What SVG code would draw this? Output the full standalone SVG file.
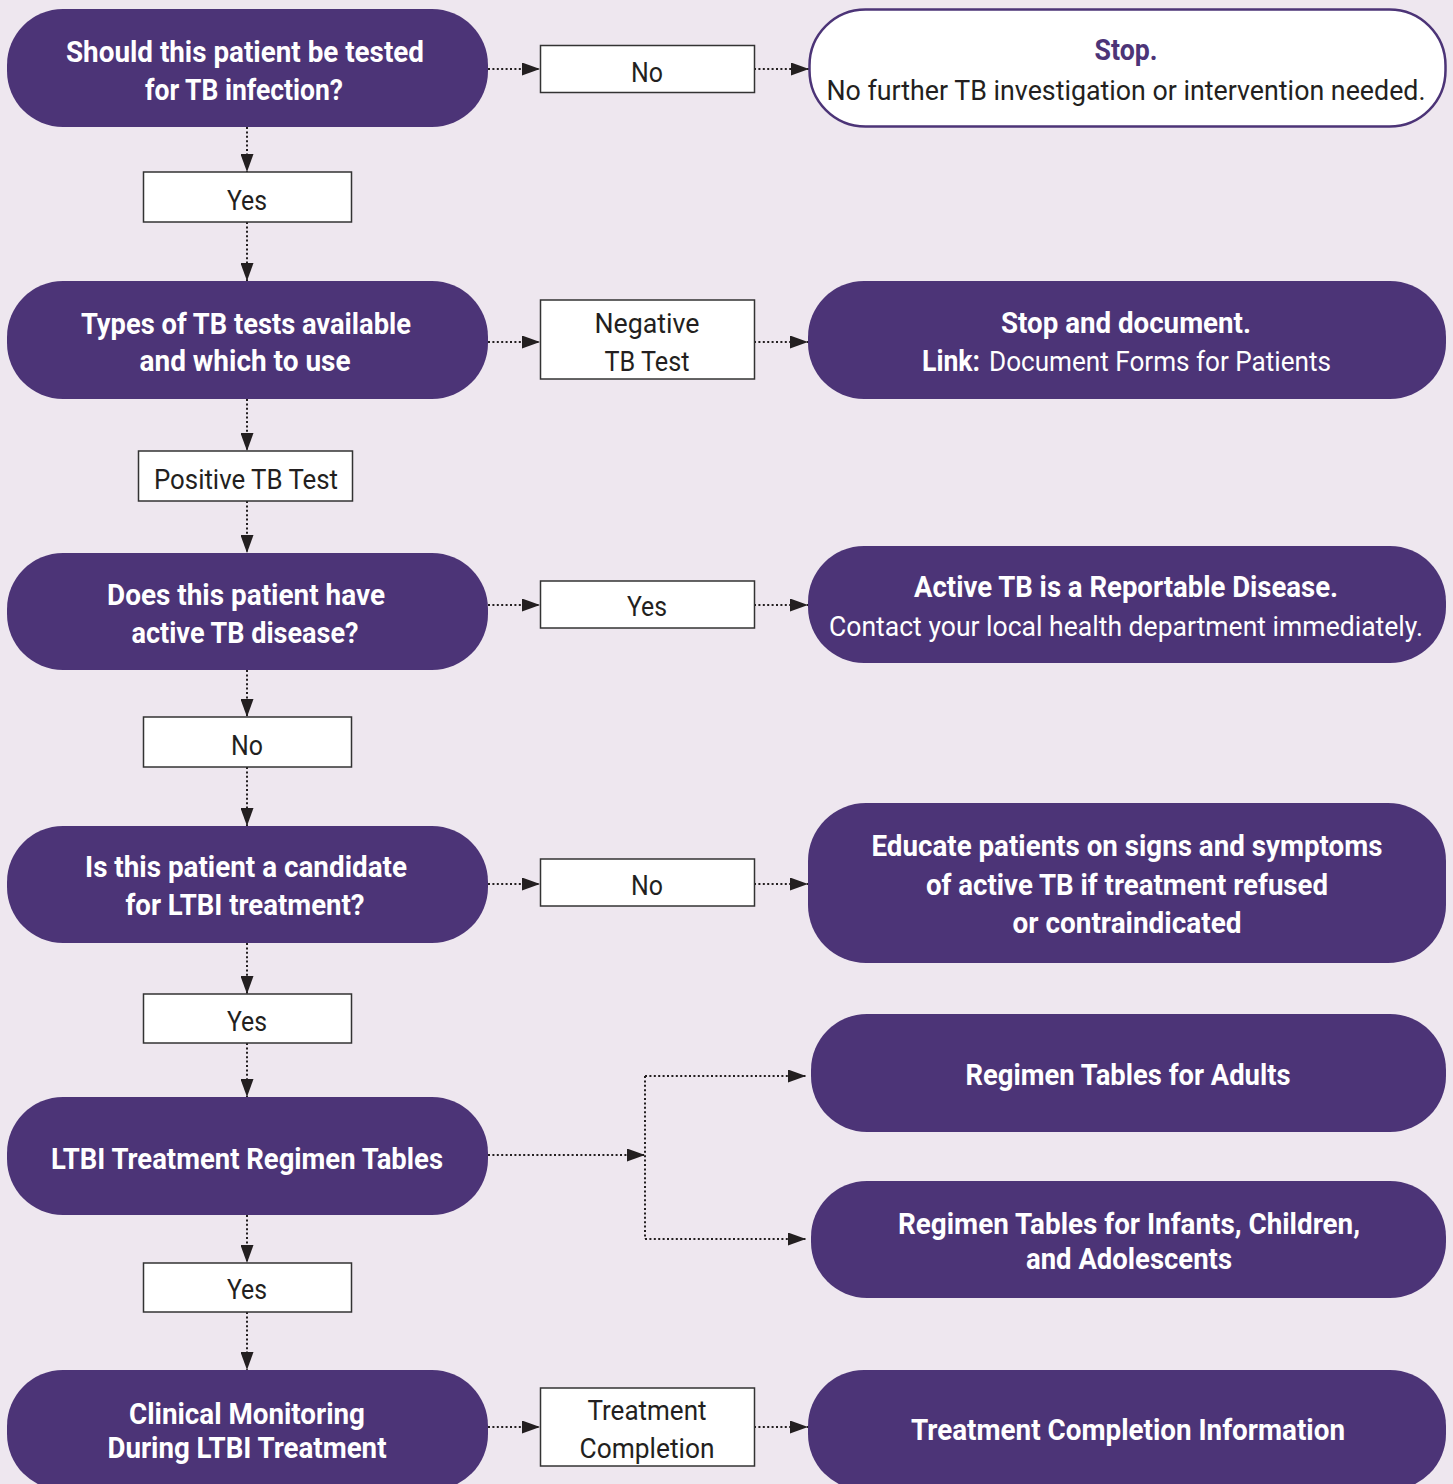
<svg xmlns="http://www.w3.org/2000/svg" width="1453" height="1484" viewBox="0 0 1453 1484">
<style>
.bg{fill:#EEE7EF}
.node{fill:#4C3477}
.stopnode{fill:#FFFFFF;stroke:#4C3477;stroke-width:2.5}
.lbl{fill:#FFFFFF;stroke:#333333;stroke-width:1.5}
.tb{font-family:"Roboto","Liberation Sans",sans-serif;font-weight:bold;font-size:29px;fill:#FFFFFF;text-anchor:middle}
.tr{font-family:"Roboto","Liberation Sans",sans-serif;font-size:28px;fill:#FFFFFF;text-anchor:middle}
.tl{font-family:"Roboto","Liberation Sans",sans-serif;font-size:28px;fill:#231F20;text-anchor:middle}
.conn{fill:none;stroke:#231F20;stroke-width:2;stroke-dasharray:2 2.4}
</style>
<defs>
<marker id="arr" markerUnits="userSpaceOnUse" markerWidth="18" markerHeight="13" refX="18" refY="6.5" orient="auto">
<path d="M0,0 L18,6.5 L0,13 z" fill="#231F20"/>
</marker>
</defs>
<rect class="bg" x="0" y="0" width="1453" height="1484"/>

<g id="connectors">
<path class="conn" d="M488,69 H540" marker-end="url(#arr)"/>
<path class="conn" d="M754,69 H809" marker-end="url(#arr)"/>
<path class="conn" d="M247,127 V172" marker-end="url(#arr)"/>
<path class="conn" d="M247,222 V281" marker-end="url(#arr)"/>
<path class="conn" d="M488,342 H540" marker-end="url(#arr)"/>
<path class="conn" d="M754,342 H808" marker-end="url(#arr)"/>
<path class="conn" d="M247,399 V451" marker-end="url(#arr)"/>
<path class="conn" d="M247,501 V553" marker-end="url(#arr)"/>
<path class="conn" d="M488,605 H540" marker-end="url(#arr)"/>
<path class="conn" d="M754,605 H808" marker-end="url(#arr)"/>
<path class="conn" d="M247,670 V717" marker-end="url(#arr)"/>
<path class="conn" d="M247,767 V826" marker-end="url(#arr)"/>
<path class="conn" d="M488,884 H540" marker-end="url(#arr)"/>
<path class="conn" d="M754,884 H808" marker-end="url(#arr)"/>
<path class="conn" d="M247,943 V994" marker-end="url(#arr)"/>
<path class="conn" d="M247,1043 V1097" marker-end="url(#arr)"/>
<path class="conn" d="M488,1155 H645" marker-end="url(#arr)"/>
<path class="conn" d="M645,1076 V1239"/>
<path class="conn" d="M645,1076 H806" marker-end="url(#arr)"/>
<path class="conn" d="M645,1239 H806" marker-end="url(#arr)"/>
<path class="conn" d="M247,1215 V1263" marker-end="url(#arr)"/>
<path class="conn" d="M247,1312 V1370" marker-end="url(#arr)"/>
<path class="conn" d="M488,1427 H540" marker-end="url(#arr)"/>
<path class="conn" d="M754,1427 H808" marker-end="url(#arr)"/>
</g>

<g id="n1">
<rect class="node" x="7" y="9" width="481" height="118" rx="56"/>
<text class="tb" x="245" y="62" textLength="358" lengthAdjust="spacingAndGlyphs">Should this patient be tested</text>
<text class="tb" x="244" y="100" textLength="198" lengthAdjust="spacingAndGlyphs">for TB infection?</text>
</g>
<g id="n2">
<rect class="node" x="7" y="281" width="481" height="118" rx="56"/>
<text class="tb" x="246" y="334" textLength="330" lengthAdjust="spacingAndGlyphs">Types of TB tests available</text>
<text class="tb" x="245" y="371" textLength="211" lengthAdjust="spacingAndGlyphs">and which to use</text>
</g>
<g id="n3">
<rect class="node" x="7" y="553" width="481" height="117" rx="56"/>
<text class="tb" x="246" y="605" textLength="278" lengthAdjust="spacingAndGlyphs">Does this patient have</text>
<text class="tb" x="245" y="643" textLength="227" lengthAdjust="spacingAndGlyphs">active TB disease?</text>
</g>
<g id="n4">
<rect class="node" x="7" y="826" width="481" height="117" rx="56"/>
<text class="tb" x="246" y="877" textLength="322" lengthAdjust="spacingAndGlyphs">Is this patient a candidate</text>
<text class="tb" x="245" y="915" textLength="239" lengthAdjust="spacingAndGlyphs">for LTBI treatment?</text>
</g>
<g id="n5">
<rect class="node" x="7" y="1097" width="481" height="118" rx="56"/>
<text class="tb" x="247" y="1169" textLength="392" lengthAdjust="spacingAndGlyphs">LTBI Treatment Regimen Tables</text>
</g>
<g id="n6">
<rect class="node" x="7" y="1370" width="481" height="120" rx="56"/>
<text class="tb" x="247" y="1424" textLength="236" lengthAdjust="spacingAndGlyphs">Clinical Monitoring</text>
<text class="tb" x="247" y="1458" textLength="279" lengthAdjust="spacingAndGlyphs">During LTBI Treatment</text>
</g>

<g id="r1">
<rect class="stopnode" x="809.5" y="9.5" width="636" height="117" rx="56"/>
<text class="tb" x="1126" y="60" style="fill:#4C3477" textLength="63" lengthAdjust="spacingAndGlyphs">Stop.</text>
<text class="tr" x="1126" y="100" style="fill:#231F20" textLength="599" lengthAdjust="spacingAndGlyphs">No further TB investigation or intervention needed.</text>
</g>
<g id="r2">
<rect class="node" x="808" y="281" width="638" height="118" rx="56"/>
<text class="tb" x="1126" y="333" textLength="250" lengthAdjust="spacingAndGlyphs">Stop and document.</text>
<text class="tb" x="922" y="371" style="text-anchor:start" textLength="58" lengthAdjust="spacingAndGlyphs">Link:</text>
<text class="tr" x="989" y="371" style="text-anchor:start" textLength="342" lengthAdjust="spacingAndGlyphs">Document Forms for Patients</text>
</g>
<g id="r3">
<rect class="node" x="808" y="546" width="638" height="117" rx="56"/>
<text class="tb" x="1126" y="597" textLength="424" lengthAdjust="spacingAndGlyphs">Active TB is a Reportable Disease.</text>
<text class="tr" x="1126" y="636" textLength="594" lengthAdjust="spacingAndGlyphs">Contact your local health department immediately.</text>
</g>
<g id="r4">
<rect class="node" x="808" y="803" width="638" height="160" rx="58"/>
<text class="tb" x="1127" y="856" textLength="511" lengthAdjust="spacingAndGlyphs">Educate patients on signs and symptoms</text>
<text class="tb" x="1127" y="895" textLength="402" lengthAdjust="spacingAndGlyphs">of active TB if treatment refused</text>
<text class="tb" x="1127" y="933" textLength="229" lengthAdjust="spacingAndGlyphs">or contraindicated</text>
</g>
<g id="r5">
<rect class="node" x="811" y="1014" width="635" height="118" rx="56"/>
<text class="tb" x="1128" y="1085" textLength="325" lengthAdjust="spacingAndGlyphs">Regimen Tables for Adults</text>
</g>
<g id="r6">
<rect class="node" x="811" y="1181" width="635" height="117" rx="56"/>
<text class="tb" x="1129" y="1234" textLength="462" lengthAdjust="spacingAndGlyphs">Regimen Tables for Infants, Children,</text>
<text class="tb" x="1129" y="1269" textLength="206" lengthAdjust="spacingAndGlyphs">and Adolescents</text>
</g>
<g id="r7">
<rect class="node" x="808" y="1370" width="638" height="120" rx="56"/>
<text class="tb" x="1128" y="1440" textLength="434" lengthAdjust="spacingAndGlyphs">Treatment Completion Information</text>
</g>

<g id="l-no1">
<rect class="lbl" x="540.5" y="45.5" width="214" height="47"/>
<text class="tl" x="647" y="82" textLength="32" lengthAdjust="spacingAndGlyphs">No</text>
</g>
<g id="l-yes1">
<rect class="lbl" x="143.5" y="172" width="208" height="50"/>
<text class="tl" x="247" y="210" textLength="40" lengthAdjust="spacingAndGlyphs">Yes</text>
</g>
<g id="l-neg">
<rect class="lbl" x="540.5" y="300" width="214" height="79"/>
<text class="tl" x="647" y="333" textLength="105" lengthAdjust="spacingAndGlyphs">Negative</text>
<text class="tl" x="647" y="371" textLength="85" lengthAdjust="spacingAndGlyphs">TB Test</text>
</g>
<g id="l-pos">
<rect class="lbl" x="138.5" y="451" width="214" height="50"/>
<text class="tl" x="246" y="489" textLength="184" lengthAdjust="spacingAndGlyphs">Positive TB Test</text>
</g>
<g id="l-yes2">
<rect class="lbl" x="540.5" y="581" width="214" height="47"/>
<text class="tl" x="647" y="616" textLength="40" lengthAdjust="spacingAndGlyphs">Yes</text>
</g>
<g id="l-no2">
<rect class="lbl" x="143.5" y="717" width="208" height="50"/>
<text class="tl" x="247" y="755" textLength="32" lengthAdjust="spacingAndGlyphs">No</text>
</g>
<g id="l-no3">
<rect class="lbl" x="540.5" y="859" width="214" height="47"/>
<text class="tl" x="647" y="895" textLength="32" lengthAdjust="spacingAndGlyphs">No</text>
</g>
<g id="l-yes3">
<rect class="lbl" x="143.5" y="994" width="208" height="49"/>
<text class="tl" x="247" y="1031" textLength="40" lengthAdjust="spacingAndGlyphs">Yes</text>
</g>
<g id="l-yes4">
<rect class="lbl" x="143.5" y="1263" width="208" height="49"/>
<text class="tl" x="247" y="1299" textLength="40" lengthAdjust="spacingAndGlyphs">Yes</text>
</g>
<g id="l-tc">
<rect class="lbl" x="540.5" y="1388" width="214" height="78"/>
<text class="tl" x="647" y="1420" textLength="119" lengthAdjust="spacingAndGlyphs">Treatment</text>
<text class="tl" x="647" y="1458" textLength="135" lengthAdjust="spacingAndGlyphs">Completion</text>
</g>
</svg>
